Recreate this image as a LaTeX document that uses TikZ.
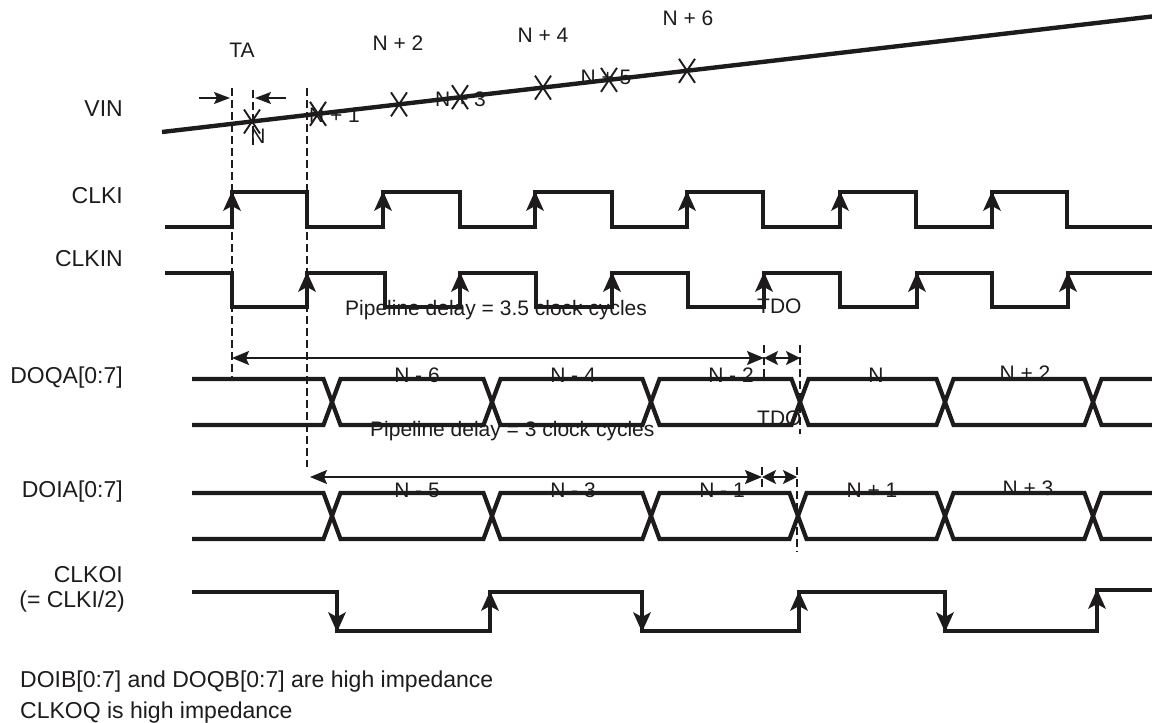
\documentclass[tikz,border=0pt]{standalone}
\usepackage{fontspec}
\setmainfont{Liberation Sans}
\usetikzlibrary{arrows.meta}
\definecolor{ink}{RGB}{30,27,28}
\newcommand\uptip[2]{\fill[ink] (#1,#2) -- (#1-9,#2+20) -- (#1,#2+15) -- (#1+9,#2+20) -- cycle;}
\newcommand\downtip[2]{\fill[ink] (#1,#2) -- (#1-9,#2-20) -- (#1,#2-15) -- (#1+9,#2-20) -- cycle;}
\begin{document}
\begin{tikzpicture}[x=1pt,y=-1pt,
  every node/.style={inner sep=0pt, text=ink},
  sig/.style={font=\fontsize{23}{27}\selectfont, anchor=base east},
  notetext/.style={font=\fontsize{23}{27}\selectfont, anchor=base west},
  inlbl/.style={font=\fontsize{21}{25}\selectfont, anchor=base},
  inlblw/.style={font=\fontsize{21}{25}\selectfont, anchor=base west},
  wave/.style={draw=ink, line width=3.6pt, line join=miter},
  bus/.style={draw=ink, line width=4.2pt, line join=miter},
  guideline/.style={draw=ink, line width=1.7pt, dash pattern=on 8pt off 4pt},
  dimarrow/.style={draw=ink, line width=1.5pt, {Stealth[length=17pt,width=14pt,inset=3pt]}-{Stealth[length=17pt,width=14pt,inset=3pt]}},
  tdoarrow/.style={draw=ink, line width=1.5pt, {Stealth[length=14pt,width=14pt,inset=3pt]}-{Stealth[length=14pt,width=14pt,inset=3pt]}},
  taarrow/.style={draw=ink, line width=1.5pt, -{Stealth[length=16pt,width=12pt,inset=3pt]}},
  xmark/.style={draw=ink, line width=1.9pt}
]
\useasboundingbox (0,0) rectangle (1152,723);

% ---------- signal names ----------
\node[sig] (lvin) at (123,116.5) {VIN};
\node[sig] (lclki) at (123,203) {CLKI};
\node[sig] (lclkin) at (123,266.5) {CLKIN};
\node[sig] (ldoqa) at (123,383) {DOQA[0:7]};
\node[sig] (ldoia) at (123,497) {DOIA[0:7]};
\node[sig] (lclkoi) at (123,582) {CLKOI};
\node[sig] (lclkoi2) at (125,607) {(= CLKI/2)};

\node[notetext] (note1) at (20,687) {DOIB[0:7] and DOQB[0:7] are high impedance};
\node[notetext] (note2) at (20,718) {CLKOQ is high impedance};

% ---------- VIN ----------
\node[inlbl] (ta) at (242,57.5) {TA};
\node[inlbl] (n2) at (398,50) {N + 2};
\node[inlbl] (n4) at (543,42) {N + 4};
\node[inlbl] (n6) at (688,25) {N + 6};
\node[inlbl] (n0) at (258,143) {N};
\node[inlbl] (n1) at (334.5,122) {N + 1};
\node[inlbl] (n3) at (460.5,106) {N + 3};
\node[inlbl] (n5) at (606,84) {N + 5};

\coordinate (v0) at (162,132);
\coordinate (v1) at (1152,16.5);
\draw[draw=ink, line width=4.4pt] (v0) -- (v1);
\foreach \x/\y in {252/121.5, 318/113.8, 399/104.4, 460/97.2, 543/87.6, 609/79.9, 687/70.8}{
  \draw[xmark] (\x-8,\y-12) -- (\x+8,\y+12);
  \draw[xmark] (\x-8,\y+12) -- (\x+8,\y-12);
}

% TA markers
\coordinate (taL) at (199,98);
\coordinate (taLe) at (230,98);
\coordinate (taR) at (286,98);
\coordinate (taRe) at (255,98);
\draw[taarrow] (taL) -- (taLe);
\draw[taarrow] (taR) -- (taRe);

% ---------- guide lines ----------
\draw[guideline] (232,88) -- (232,378);
\draw[guideline] (307,88) -- (307,467);
\draw[guideline] (253,90) -- (253,145);
\draw[guideline] (764,345) -- (764,378);
\draw[guideline] (800,345) -- (800,434);
\draw[guideline] (762,467) -- (762,490);
\draw[guideline] (797,467) -- (797,552);

% ---------- CLKI ----------
\draw[wave] (165,227) -- (232,227) -- (232,192) -- (307,192) -- (307,227) -- (383,227) -- (383,192) -- (460,192) -- (460,227) -- (535,227) -- (535,192) -- (612,192) -- (612,227) -- (687,227) -- (687,192) -- (763,192) -- (763,227) -- (840,227) -- (840,192) -- (916,192) -- (916,227) -- (992,227) -- (992,192) -- (1067,192) -- (1067,227) -- (1152,227);
\foreach \x in {232,383,535,687,840,992}{
  \uptip{\x}{191}
}

% ---------- CLKIN ----------
\draw[wave] (165,273) -- (232,273) -- (232,307) -- (307,307) -- (307,273) -- (385,273) -- (385,307) -- (460,307) -- (460,273) -- (536,273) -- (536,307) -- (612,307) -- (612,273) -- (688,273) -- (688,307) -- (764,307) -- (764,273) -- (840,273) -- (840,307) -- (917,307) -- (917,273) -- (992,273) -- (992,307) -- (1068,307) -- (1068,273) -- (1152,273);
\foreach \x in {307,460,612,764,917,1068}{
  \uptip{\x}{272}
}
\node[inlblw] (pd35) at (345,315) {Pipeline delay = 3.5 clock cycles};
\node[inlblw] (tdo1) at (757,313) {TDO};

% ---------- DOQA ----------
\node[inlbl] (q6) at (417,382) {N - 6};
\node[inlbl] (q4) at (573,382) {N - 4};
\node[inlbl] (q2) at (731,382) {N - 2};
\node[inlbl] (q0) at (876,382) {N};
\node[inlbl] (qp2) at (1025,380) {N + 2};
\draw[bus] (192,379) -- (323.5,379) -- (340.5,425) -- (483.5,425) -- (500.5,379) -- (642.5,379) -- (659.5,425) -- (791.5,425) -- (808.5,379) -- (936.5,379) -- (953.5,425) -- (1084.5,425) -- (1101.5,379) -- (1152,379);
\draw[bus] (192,425) -- (323.5,425) -- (340.5,379) -- (483.5,379) -- (500.5,425) -- (642.5,425) -- (659.5,379) -- (791.5,379) -- (808.5,425) -- (936.5,425) -- (953.5,379) -- (1084.5,379) -- (1101.5,425) -- (1152,425);
\coordinate (pq0) at (232,358);
\coordinate (pq1) at (764,358);
\coordinate (pq2) at (800,358);
\draw[dimarrow] (pq0) -- (pq1);
\draw[tdoarrow] (pq1) -- (pq2);
\node[inlblw] (pd3) at (370,436) {Pipeline delay = 3 clock cycles};
\node[inlblw] (tdo2) at (757,425) {TDO};

% ---------- DOIA ----------
\node[inlbl] (i5) at (417,497) {N - 5};
\node[inlbl] (i3) at (573,497) {N - 3};
\node[inlbl] (i1) at (722,497) {N - 1};
\node[inlbl] (ip1) at (872,497) {N + 1};
\node[inlbl] (ip3) at (1028,495) {N + 3};
\draw[bus] (192,493) -- (323.5,493) -- (340.5,539) -- (483.5,539) -- (500.5,493) -- (642.5,493) -- (659.5,539) -- (789.5,539) -- (806.5,493) -- (936.5,493) -- (953.5,539) -- (1084.5,539) -- (1101.5,493) -- (1152,493);
\draw[bus] (192,539) -- (323.5,539) -- (340.5,493) -- (483.5,493) -- (500.5,539) -- (642.5,539) -- (659.5,493) -- (789.5,493) -- (806.5,539) -- (936.5,539) -- (953.5,493) -- (1084.5,493) -- (1101.5,539) -- (1152,539);
\coordinate (pi0) at (310,477);
\coordinate (pi1) at (762,477);
\coordinate (pi2) at (797,477);
\draw[dimarrow] (pi0) -- (pi1);
\draw[tdoarrow] (pi1) -- (pi2);

% ---------- CLKOI ----------
\draw[wave] (192,592) -- (337,592) -- (337,631) -- (490,631) -- (490,592) -- (642,592) -- (642,631) -- (799,631) -- (799,592) -- (945,592) -- (945,631) -- (1097,631) -- (1097,590) -- (1152,590);
\foreach \x in {337,642,945}{
  \downtip{\x}{632}
}
\foreach \x in {490,799}{
  \uptip{\x}{591}
}
\uptip{1097}{589}
\end{tikzpicture}
\end{document}
